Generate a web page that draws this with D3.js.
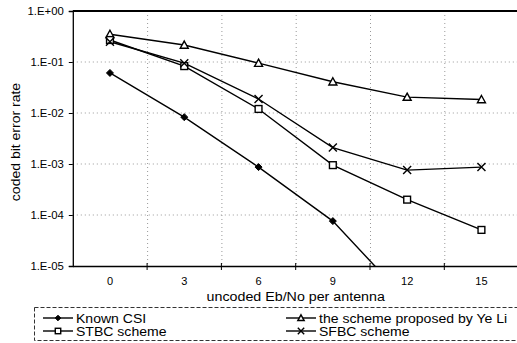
<!DOCTYPE html>
<html lang="en">
<head>
<meta charset="UTF-8">
<title>coded bit error rate</title>
<script src="https://cdnjs.cloudflare.com/ajax/libs/d3/7.8.5/d3.min.js"></script>
<style>
  body { margin: 0; background: #fff; }
  svg { font-family: Arial, "Liberation Sans", sans-serif; }
</style>
</head>
<body>
<svg id="chart" width="517" height="343"></svg>
<script>
// categories (uncoded Eb/No per antenna)
const snr = ["0", "3", "6", "9", "12", "15"];
const yTicks = [1, 1e-1, 1e-2, 1e-3, 1e-4, 1e-5];
const yTickLabels = ["1.E+00", "1.E-01", "1.E-02", "1.E-03", "1.E-04", "1.E-05"];

// series values
const knownCSI = [0.061, 0.0083, 0.00087, 0.000076, 0.0000021];
const yeLi = [0.35, 0.215, 0.095, 0.041, 0.0205, 0.0184];
const stbc = [0.27, 0.083, 0.012, 0.00095, 0.0002, 0.000051];
const sfbc = [0.25, 0.095, 0.0188, 0.0021, 0.00076, 0.00087];

const series = [
  { name: "Known CSI", values: knownCSI, marker: "diamond" },
  { name: "the scheme proposed by Ye Li", values: yeLi, marker: "triangle" },
  { name: "STBC scheme", values: stbc, marker: "square" },
  { name: "SFBC scheme", values: sfbc, marker: "cross" }
];

const svg = d3.select("#chart");
const pLeft = 72.8, pRight = 518.6, pTop = 11, pBottom = 266;

const x = d3.scaleBand().domain(snr).range([pLeft, pRight]);
const y = d3.scaleLog().domain([1e-5, 1]).range([pBottom, pTop]);

// the scanned original has slightly wide lettering
function stretch(sel, k) {
  sel.each(function () {
    const w = this.getComputedTextLength();
    d3.select(this).attr("textLength", w * k).attr("lengthAdjust", "spacingAndGlyphs");
  });
}

svg.append("defs").append("clipPath").attr("id", "plotclip")
  .append("rect").attr("x", pLeft).attr("y", pTop - 6)
  .attr("width", pRight - pLeft).attr("height", pBottom - pTop + 6);

// grid
const grid = svg.append("g").attr("stroke", "#999").attr("stroke-width", 1)
  .attr("stroke-dasharray", "1,3");
grid.selectAll(".vg").data(snr.slice(1)).join("line")
  .attr("x1", d => x(d) + 0.5).attr("x2", d => x(d) + 0.5)
  .attr("y1", pTop).attr("y2", pBottom);
grid.selectAll(".hg").data(yTicks.slice(1, -1)).join("line")
  .attr("x1", pLeft).attr("x2", pRight)
  .attr("y1", d => y(d)).attr("y2", d => y(d));

// frame
svg.append("line").attr("x1", pLeft).attr("x2", pRight).attr("y1", pTop).attr("y2", pTop)
  .attr("stroke", "#000").attr("stroke-width", 2);

// y axis
const yAxis = svg.append("g").attr("transform", `translate(${pLeft},0)`)
  .call(d3.axisLeft(y).tickValues(yTicks).tickSize(4)
    .tickFormat((d, i) => yTickLabels[i]));
yAxis.select(".domain").attr("stroke", "#000").attr("stroke-width", 1.3);
yAxis.selectAll("text").attr("font-size", 10.5).attr("fill", "#000")
  .attr("font-family", "Arial, 'Liberation Sans', sans-serif").attr("dx", "-2")
  .call(stretch, 1.08);

// x axis
const xAxis = svg.append("g").attr("transform", `translate(0,${pBottom})`)
  .call(d3.axisBottom(x).tickSize(0).tickPadding(11));
xAxis.select(".domain").attr("stroke", "#000").attr("stroke-width", 1.5);
xAxis.selectAll("text").attr("font-size", 11).attr("fill", "#000")
  .attr("font-family", "Arial, 'Liberation Sans', sans-serif");
svg.append("g").selectAll("line").data(snr.slice(1)).join("line")
  .attr("x1", d => x(d)).attr("x2", d => x(d))
  .attr("y1", pBottom - 3).attr("y2", pBottom + 4)
  .attr("stroke", "#000");

// titles
svg.append("text").attr("x", (pLeft + pRight) / 2).attr("y", 301)
  .attr("text-anchor", "middle").attr("font-size", 12.5).text("uncoded Eb/No per antenna")
  .call(stretch, 1.14);
svg.append("text").attr("transform", `translate(19.5,142) rotate(-90)`)
  .attr("text-anchor", "middle").attr("font-size", 12.5).text("coded bit error rate")
  .call(stretch, 1.12);

// markers
function drawMarker(g, type, cx, cy, s) {
  if (type === "diamond") {
    g.append("path").attr("d", `M${cx},${cy - s}L${cx + s},${cy}L${cx},${cy + s}L${cx - s},${cy}Z`)
      .attr("fill", "#000").attr("stroke", "#000");
  } else if (type === "triangle") {
    g.append("path").attr("d", `M${cx},${cy - s}L${cx + s},${cy + s * 0.8}L${cx - s},${cy + s * 0.8}Z`)
      .attr("fill", "#fff").attr("stroke", "#000").attr("stroke-width", 1.4);
  } else if (type === "square") {
    g.append("rect").attr("x", cx - s * 0.85).attr("y", cy - s * 0.85)
      .attr("width", s * 1.7).attr("height", s * 1.7)
      .attr("fill", "#fff").attr("stroke", "#000").attr("stroke-width", 1.4);
  } else {
    g.append("path").attr("d", `M${cx - s},${cy - s}L${cx + s},${cy + s}M${cx - s},${cy + s}L${cx + s},${cy - s}`)
      .attr("stroke", "#000").attr("stroke-width", 1.4);
  }
}

const line = d3.line().x((d, i) => x(snr[i]) + x.bandwidth() / 2).y(d => y(d));
const plot = svg.append("g").attr("clip-path", "url(#plotclip)");
series.forEach(s => {
  plot.append("path").datum(s.values).attr("d", line)
    .attr("fill", "none").attr("stroke", "#000").attr("stroke-width", 1.4);
});
series.forEach(s => {
  const g = plot.append("g");
  s.values.forEach((v, i) => {
    if (v < 1e-5) return;
    drawMarker(g, s.marker, x(snr[i]) + x.bandwidth() / 2, y(v), s.marker === "diamond" ? 3.5 : 4);
  });
});

// legend
svg.append("rect").attr("x", 34.5).attr("y", 307.5).attr("width", 500).attr("height", 33)
  .attr("fill", "none").attr("stroke", "#333").attr("stroke-dasharray", "4,2");
const legendItems = [
  { s: series[0], lx: 43, ly: 318 },
  { s: series[2], lx: 43, ly: 331 },
  { s: series[1], lx: 286, ly: 318 },
  { s: series[3], lx: 286, ly: 331 }
];
legendItems.forEach(it => {
  const g = svg.append("g");
  g.append("line").attr("x1", it.lx).attr("x2", it.lx + 30).attr("y1", it.ly).attr("y2", it.ly)
    .attr("stroke", "#000").attr("stroke-width", 1.4);
  drawMarker(g, it.s.marker, it.lx + 15, it.ly, it.s.marker === "diamond" ? 2.8 : 3.2);
  g.append("text").attr("x", it.lx + 33).attr("y", it.ly + 4.5)
    .attr("font-size", 12).text(it.s.name)
    .call(stretch, 1.17);
});
</script>
</body>
</html>
